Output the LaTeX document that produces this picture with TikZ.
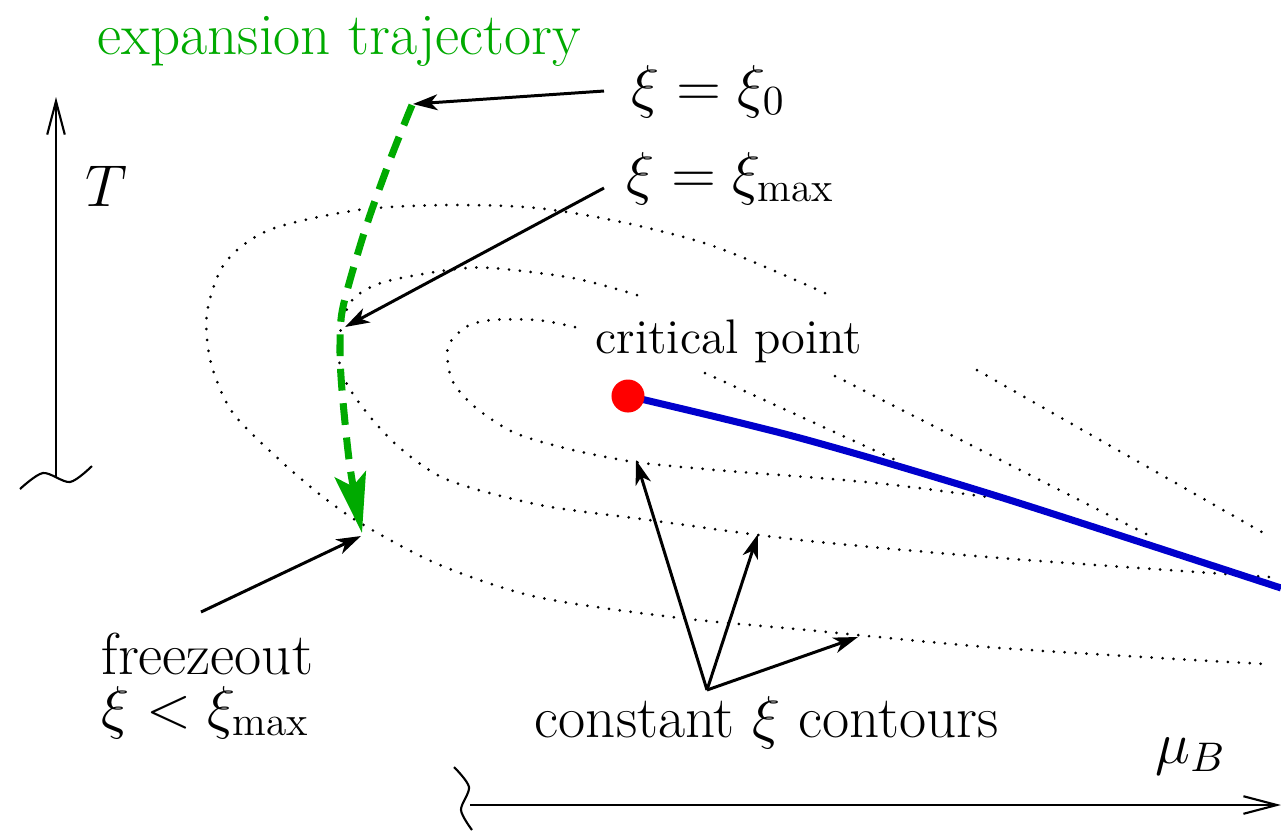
\RequirePackage{fix-cm}
\documentclass[tikz,border=0pt]{standalone}
\usepackage{fontspec}
\usepackage{tikz}
\usetikzlibrary{arrows.meta}
\definecolor{TrajGreen}{HTML}{00AA00}
\definecolor{LineBlue}{HTML}{0000CC}
\definecolor{DotRed}{HTML}{FF0000}
\tikzset{
  axisline/.style={line width=0.6pt, -{Straight Barb[length=9.5pt,width=5pt]}},
  pointer/.style={line width=0.85pt, -{Stealth[length=7pt,width=4.5pt,inset=2pt]}},
  contour/.style={line width=0.85pt, line cap=round, dash pattern=on 0pt off 3.1pt},
  traj/.style={TrajGreen, line width=2pt, dash pattern=on 6.2pt off 3.6pt,
    -{Stealth[length=17pt,width=9pt,inset=3.5pt]}},
  txt/.style={inner sep=0pt, anchor=base west, font=\fontsize{16.8}{20}\selectfont},
}

\begin{document}
\begin{tikzpicture}[x=0.01cm, y=-0.01cm]
  \useasboundingbox (0,0) rectangle (1281,832);
  % Axes
  \draw[axisline] (56,477) -- (56,97);
  \draw[line width=0.6pt] plot[smooth] coordinates {(20,489) (43,473) (70,482) (92,466)};
  \draw[axisline] (470,805) -- (1281,805);
  \draw[line width=0.6pt] plot[smooth] coordinates {(454,767) (469,787) (461,810) (472,830)};
  % Contours
  \draw[contour] plot[smooth] coordinates {(825,293) (716,247) (626,223) (537,208) (448,205)
    (358,210) (269,230) (225,263) (207,313) (211,363) (233,413) (283,463) (327,500)
    (367,527) (440,565) (537,597) (680,618) (807,630) (1000,648) (1265,664)};
  \draw[contour] plot[smooth] coordinates {(637,295) (573,278) (492,268) (448,270) (381,283)
    (350,303) (338,347) (345,380) (367,413) (400,448) (448,480) (540,505) (649,520)
    (800,540) (1000,558) (1270,577)};
  \draw[contour] plot[smooth] coordinates {(575,327) (537,320) (492,320) (466,327) (448,347)
    (452,380) (475,407) (515,433) (573,450) (635,462) (716,470) (876,483) (1017,501)};
  \draw[contour] (705,373) -- (900,462);
  \draw[contour] (835,376) -- (1152,537);
  \draw[contour] (977,370) -- (1267,535);
  % Transition line
  \coordinate (cp) at (628,396);
  \draw[LineBlue, line width=2pt] plot[smooth] coordinates {(cp) (800,438) (1000,497) (1281,588)};
  \node[circle, fill=DotRed, inner sep=0pt, minimum size=0.33cm] (cpdot) at (cp) {};
  % Trajectory
  \draw[traj] plot[smooth] coordinates {(412,105) (390,160) (365,230) (343,307) (340,347)
    (342,390) (350,467) (362,533)};
  % Labels
  \node[txt, TrajGreen] (trajlabel) at (97,54) {expansion trajectory};
  \node[txt] (xizero) at (631,106) {$\xi=\xi_0$};
  \node[txt] (ximax) at (626,193) {$\xi=\xi_{\max}$};
  \node[txt] (tlabel) at (85,206) {$T$};
  \node[txt, font=\fontsize{13.8}{16}\selectfont] (cplabel) at (595,353) {critical point};
  \node[txt] (freeze) at (101,674) {freezeout};
  \node[txt] (freezexi) at (101,727) {$\xi<\xi_{\max}$};
  \node[txt] (contlabel) at (534,737) {constant $\xi$ contours};
  \node[txt] (mulabel) at (1155,763) {$\mu_B$};
  % Pointers
  \coordinate (xizeroTail) at (604,91);
  \coordinate (ximaxTail) at (604,188);
  \coordinate (freezeTail) at (201,612);
  \coordinate (contTail) at (707,690);
  \coordinate (trajTop) at (413,104);
  \coordinate (trajMax) at (345,327);
  \coordinate (trajEnd) at (361,536);
  \coordinate (contA) at (636,460);
  \coordinate (contB) at (758,534);
  \coordinate (contC) at (858,637);
  \draw[pointer] (xizeroTail) -- (trajTop);
  \draw[pointer] (ximaxTail) -- (trajMax);
  \draw[pointer] (freezeTail) -- (trajEnd);
  \foreach \tip in {contA, contB, contC}
    \draw[pointer] (contTail) -- (\tip);
\end{tikzpicture}
\end{document}
